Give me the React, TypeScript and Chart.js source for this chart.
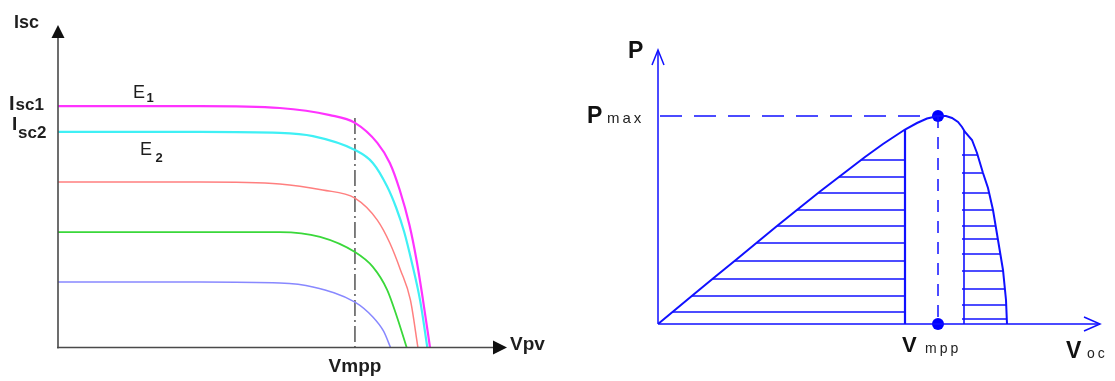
import React, { useEffect, useRef } from "react";
import { Chart, registerables } from "chart.js";
Chart.register(...registerables);

// ---------- Left panel: I-V curves (V, I) ----------
const ivMagentaV = [0, 15.9, 24.8, 30.4, 33.2, 35.7, 37.1, 38.2, 39.3, 40.1, 40.8, 41.6];
const ivMagentaI = [7.49, 7.49, 7.43, 7.21, 6.97, 6.35, 5.73, 4.9, 3.8, 2.7, 1.5, 0];
const ivCyanV = [0, 15.9, 24.8, 28.5, 33.2, 35.2, 36.8, 37.8, 38.7, 39.6, 40.5, 41.3];
const ivCyanI = [6.69, 6.69, 6.66, 6.56, 6.13, 5.73, 5.0, 4.35, 3.6, 2.6, 1.45, 0];
const ivRedV = [0, 15.9, 24.8, 29.6, 33.2, 35.7, 37.1, 38.3, 39.4, 40.25];
const ivRedI = [5.14, 5.14, 5.08, 4.89, 4.64, 3.96, 3.25, 2.41, 1.49, 0];
const ivGreenV = [0, 15.9, 24.8, 29.3, 33.2, 35.2, 36.8, 37.9, 39.0];
const ivGreenI = [3.59, 3.59, 3.59, 3.44, 2.97, 2.51, 1.8, 0.96, 0];
const ivBlueV = [0, 15.9, 24.8, 28.5, 33.2, 35.2, 36.4, 37.2];
const ivBlueI = [2.04, 2.04, 2.01, 1.89, 1.42, 0.96, 0.52, 0];
const ivVmpp = 33.2;
const ivVmppLineTop = 7.12;

// ---------- Right panel: P-V curve (V, P) ----------
const pvV = [0, 3.5, 5.5, 7.9, 10.2, 11.9, 14.2, 16.2, 19.2, 20.7, 22.5, 24.7, 25.9, 26.9, 28.0, 28.8, 29.4, 30.0, 30.4, 30.7, 31.4, 31.9, 32.5, 33.0, 33.5, 34.0, 34.5, 34.8, 34.9];
const pvP = [0, 2.9, 4.55, 6.5, 8.4, 9.8, 11.65, 13.25, 15.55, 16.7, 18.0, 19.45, 20.1, 20.55, 20.8, 20.8, 20.6, 20.2, 19.7, 19.2, 18.4, 17.1, 15.1, 13.6, 11.4, 8.4, 5.4, 2.4, 0];
const leftHatchP = [16.4, 14.7, 13.1, 11.4, 9.8, 8.1, 6.3, 4.5, 2.8, 1.2];
const rightHatchP = [16.9, 15.1, 13.1, 11.4, 9.8, 8.5, 7.0, 5.3, 3.5, 1.9, 0.5];
const leftBarV = 24.7;
const rightBarV = 30.6;

const FONT = '"Liberation Sans", Arial, sans-serif';

function pts(xs: number[], ys: number[]) {
  return xs.map((x, i) => ({ x, y: ys[i] }));
}

function peakIndex() {
  let k = 0;
  for (let i = 1; i < pvP.length; i++) if (pvP[i] > pvP[k]) k = i;
  return k;
}

// V where curve crosses level p on rising (side=0) or falling (side=1) part
function crossV(p: number, side: number) {
  const k = peakIndex();
  if (side === 0) {
    for (let i = 0; i < k; i++) {
      if (pvP[i] <= p && p <= pvP[i + 1]) {
        const t = (p - pvP[i]) / (pvP[i + 1] - pvP[i]);
        return pvV[i] + t * (pvV[i + 1] - pvV[i]);
      }
    }
  } else {
    for (let i = k; i < pvP.length - 1; i++) {
      if (pvP[i] >= p && p >= pvP[i + 1]) {
        const d = pvP[i] - pvP[i + 1];
        const t = d === 0 ? 0 : (pvP[i] - p) / d;
        return pvV[i] + t * (pvV[i + 1] - pvV[i]);
      }
    }
  }
  return 0;
}

function pAtV(v: number) {
  for (let i = 0; i < pvV.length - 1; i++) {
    if (pvV[i] <= v && v <= pvV[i + 1]) {
      const d = pvV[i + 1] - pvV[i];
      const t = d === 0 ? 0 : (v - pvV[i]) / d;
      return pvP[i] + t * (pvP[i + 1] - pvP[i]);
    }
  }
  return 0;
}

const leftDecor = {
  id: "leftDecor",
  afterDatasetsDraw(chart: any) {
    const ctx = chart.ctx;
    const xs = chart.scales.x, ys = chart.scales.y;
    const ox = xs.getPixelForValue(0), oy = ys.getPixelForValue(0) - 0.5;
    const top = ys.getPixelForValue(ys.max), right = xs.getPixelForValue(xs.max);
    ctx.save();
    ctx.strokeStyle = "#4a4a4a";
    ctx.lineWidth = 1.6;
    ctx.beginPath();
    ctx.moveTo(ox, oy + 1);
    ctx.lineTo(ox, top + 10);
    ctx.moveTo(ox - 1, oy);
    ctx.lineTo(right - 12, oy);
    ctx.stroke();
    ctx.fillStyle = "#111";
    ctx.beginPath();
    ctx.moveTo(ox, top);
    ctx.lineTo(ox - 6.5, top + 13);
    ctx.lineTo(ox + 6.5, top + 13);
    ctx.closePath();
    ctx.fill();
    ctx.beginPath();
    ctx.moveTo(right, oy);
    ctx.lineTo(right - 14, oy - 7);
    ctx.lineTo(right - 14, oy + 7);
    ctx.closePath();
    ctx.fill();

    ctx.fillStyle = "#1e1e1e";
    ctx.textBaseline = "alphabetic";
    ctx.font = `bold 18px ${FONT}`;
    ctx.fillText("Isc", 14, 28);
    ctx.font = `bold 20px ${FONT}`;
    ctx.fillText("I", 9, 110);
    ctx.font = `bold 17px ${FONT}`;
    ctx.fillText("sc1", 15.5, 110);
    ctx.font = `bold 19px ${FONT}`;
    ctx.fillText("I", 12, 130);
    ctx.font = `bold 17px ${FONT}`;
    ctx.fillText("sc2", 18, 138);
    ctx.font = `18px ${FONT}`;
    ctx.fillText("E", 133, 98);
    ctx.fillText("E", 140, 155);
    ctx.font = `bold 13px ${FONT}`;
    ctx.fillText("1", 146.5, 102);
    ctx.fillText("2", 155.5, 162);
    ctx.font = `bold 19px ${FONT}`;
    ctx.textAlign = "center";
    ctx.fillText("Vmpp", xs.getPixelForValue(ivVmpp), 372);
    ctx.textAlign = "left";
    ctx.fillText("Vpv", 510, 350);
    ctx.restore();
  },
};

const rightDecor = {
  id: "rightDecor",
  afterDatasetsDraw(chart: any) {
    const ctx = chart.ctx;
    const xs = chart.scales.x, ys = chart.scales.y;
    const ox = xs.getPixelForValue(0), oy = ys.getPixelForValue(0);
    const top = ys.getPixelForValue(ys.max), right = xs.getPixelForValue(xs.max);
    ctx.save();
    ctx.strokeStyle = "#1010ff";
    ctx.lineWidth = 1.5;
    ctx.beginPath();
    ctx.moveTo(ox, oy);
    ctx.lineTo(ox, top + 2);
    ctx.moveTo(ox, oy);
    ctx.lineTo(right - 2, oy);
    ctx.stroke();
    ctx.beginPath();
    ctx.moveTo(ox - 6, top + 15);
    ctx.lineTo(ox, top);
    ctx.lineTo(ox + 6, top + 15);
    ctx.moveTo(right - 16, oy - 7);
    ctx.lineTo(right, oy);
    ctx.lineTo(right - 16, oy + 7);
    ctx.stroke();

    ctx.fillStyle = "#111";
    ctx.textBaseline = "alphabetic";
    ctx.font = `bold 23px ${FONT}`;
    ctx.fillText("P", 68, 58);
    ctx.fillText("P", 27, 123);
    ctx.font = `bold 22px ${FONT}`;
    ctx.fillText("V", 342, 352);
    ctx.font = `bold 23px ${FONT}`;
    ctx.fillText("V", 506, 358);
    ctx.fillStyle = "#222";
    ctx.font = `15px ${FONT}`;
    (ctx as any).letterSpacing = "3px";
    ctx.fillText("max", 47, 123);
    ctx.font = `14px ${FONT}`;
    ctx.fillText("mpp", 365, 353);
    ctx.fillText("oc", 527, 358);
    (ctx as any).letterSpacing = "0px";
    ctx.restore();
  },
};

export default function App() {
  const leftRef = useRef<HTMLCanvasElement | null>(null);
  const rightRef = useRef<HTMLCanvasElement | null>(null);

  useEffect(() => {
    const curves = [
      { v: ivMagentaV, i: ivMagentaI, color: "#ff33ff", w: 2.2 },
      { v: ivCyanV, i: ivCyanI, color: "#3ff0f5", w: 2.2 },
      { v: ivRedV, i: ivRedI, color: "#ff7f7f", w: 1.5 },
      { v: ivGreenV, i: ivGreenI, color: "#3ad83a", w: 1.8 },
      { v: ivBlueV, i: ivBlueI, color: "#8888ff", w: 1.5 },
    ];
    const leftDatasets: any[] = curves.map((c) => ({
      data: pts(c.v, c.i),
      showLine: true,
      borderColor: c.color,
      borderWidth: c.w,
      pointRadius: 0,
      cubicInterpolationMode: "monotone",
      fill: false,
    }));
    leftDatasets.push({
      data: [
        { x: ivVmpp, y: ivVmppLineTop },
        { x: ivVmpp, y: 0 },
      ],
      showLine: true,
      borderColor: "#555",
      borderWidth: 1.5,
      borderDash: [16, 4, 2, 4],
      pointRadius: 0,
    });

    const left = new Chart(leftRef.current as HTMLCanvasElement, {
      type: "scatter",
      data: { datasets: leftDatasets },
      options: {
        animation: false,
        responsive: false,
        events: [],
        layout: { padding: { left: 58, right: 53, top: 25, bottom: 33 } },
        scales: {
          x: { type: "linear", min: 0, max: 50.2, display: false },
          y: { type: "linear", min: 0, max: 10, display: false },
        },
        plugins: { legend: { display: false }, tooltip: { enabled: false } },
      } as any,
      plugins: [leftDecor],
    });

    const k = peakIndex();
    const vmpp = pvV[k], pmax = pvP[k];
    const blue = "#1010ff";
    const rightDatasets: any[] = [];
    rightDatasets.push({
      data: pts(pvV, pvP),
      showLine: true,
      borderColor: blue,
      borderWidth: 2,
      pointRadius: 0,
      tension: 0,
    });
    leftHatchP.forEach((p) => {
      rightDatasets.push({
        data: [
          { x: crossV(p, 0), y: p },
          { x: leftBarV, y: p },
        ],
        showLine: true,
        borderColor: blue,
        borderWidth: 1.5,
        pointRadius: 0,
      });
    });
    rightHatchP.forEach((p) => {
      rightDatasets.push({
        data: [
          { x: rightBarV - 0.2, y: p },
          { x: crossV(p, 1), y: p },
        ],
        showLine: true,
        borderColor: blue,
        borderWidth: 1.5,
        pointRadius: 0,
      });
    });
    rightDatasets.push({
      data: [
        { x: leftBarV, y: 0 },
        { x: leftBarV, y: pAtV(leftBarV) },
      ],
      showLine: true,
      borderColor: blue,
      borderWidth: 2.2,
      pointRadius: 0,
    });
    rightDatasets.push({
      data: [
        { x: rightBarV, y: 0 },
        { x: rightBarV, y: pAtV(rightBarV) },
      ],
      showLine: true,
      borderColor: blue,
      borderWidth: 1.6,
      pointRadius: 0,
    });
    rightDatasets.push({
      data: [
        { x: 0.2, y: pmax },
        { x: vmpp, y: pmax },
      ],
      showLine: true,
      borderColor: blue,
      borderWidth: 1.5,
      borderDash: [22, 12],
      pointRadius: 0,
    });
    rightDatasets.push({
      data: [
        { x: vmpp, y: pmax },
        { x: vmpp, y: 0 },
      ],
      showLine: true,
      borderColor: blue,
      borderWidth: 1.5,
      borderDash: [12, 9],
      pointRadius: 0,
    });
    rightDatasets.push({
      data: [
        { x: vmpp, y: pmax },
        { x: vmpp, y: 0 },
      ],
      showLine: false,
      pointRadius: 6,
      pointBackgroundColor: "#0000ff",
      pointBorderColor: "#0000ff",
      pointBorderWidth: 0,
      clip: false,
    });

    const right = new Chart(rightRef.current as HTMLCanvasElement, {
      type: "scatter",
      data: { datasets: rightDatasets },
      options: {
        animation: false,
        responsive: false,
        events: [],
        layout: { padding: { left: 98, right: 15, top: 50, bottom: 57 } },
        scales: {
          x: { type: "linear", min: 0, max: 44.2, display: false },
          y: { type: "linear", min: 0, max: 27.4, display: false },
        },
        plugins: { legend: { display: false }, tooltip: { enabled: false } },
      } as any,
      plugins: [rightDecor],
    });

    return () => {
      left.destroy();
      right.destroy();
    };
  }, []);

  return (
    <div style={{ position: "fixed", left: 0, top: 0, width: 1115, height: 381, background: "#fff" }}>
      <canvas ref={leftRef} width={560} height={381} style={{ position: "absolute", left: 0, top: 0, width: 560, height: 381 }} />
      <canvas ref={rightRef} width={555} height={381} style={{ position: "absolute", left: 560, top: 0, width: 555, height: 381 }} />
    </div>
  );
}
